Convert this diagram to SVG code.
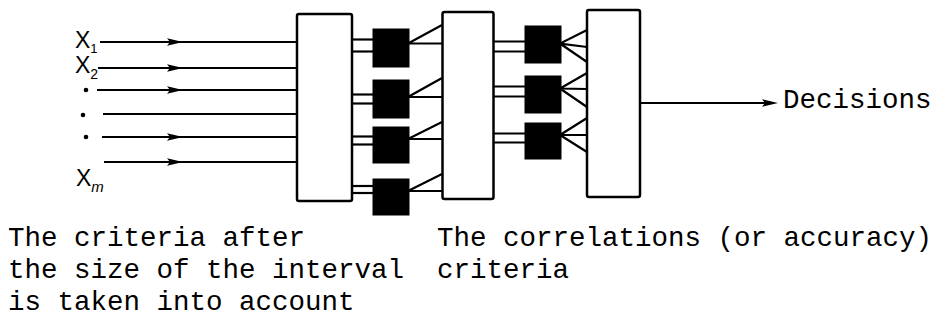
<svg xmlns="http://www.w3.org/2000/svg" xmlns:xlink="http://www.w3.org/1999/xlink" width="944" height="320" viewBox="0 0 944 320">
<style>
.box{fill:#fff;stroke:#000;stroke-width:2.5}
.blk{fill:#000;stroke:#000;stroke-width:1}
.ln{stroke:#000;stroke-width:2.2;fill:none}
.mono{font-family:"Liberation Mono","Courier New",monospace;font-size:27.5px;fill:#000}
.xl{font-family:"Liberation Sans",Arial,sans-serif;fill:#000}
</style>
<defs>
<path id="ah" d="M0,0 L-16,-3.8 L-13,0 L-16,3.8 Z" fill="#000"/>
</defs>
<rect width="944" height="320" fill="#fff"/>
<g id="connectors">
  <line class="ln" x1="100" y1="42" x2="297" y2="42"/>
  <line class="ln" x1="98" y1="68" x2="297" y2="68"/>
  <line class="ln" x1="97" y1="90" x2="297" y2="90"/>
  <line class="ln" x1="103" y1="114" x2="297" y2="114"/>
  <line class="ln" x1="102" y1="137" x2="297" y2="137"/>
  <line class="ln" x1="104" y1="162" x2="297" y2="162"/>
  <use xlink:href="#ah" x="183" y="42"/>
  <use xlink:href="#ah" x="183" y="68"/>
  <use xlink:href="#ah" x="183" y="90"/>
  <use xlink:href="#ah" x="183" y="137"/>
  <use xlink:href="#ah" x="183" y="162"/>
  <line class="ln" x1="352" y1="39.5" x2="373" y2="39.5"/>
  <line class="ln" x1="352" y1="51.5" x2="373" y2="51.5"/>
  <line class="ln" x1="352" y1="94.5" x2="373" y2="94.5"/>
  <line class="ln" x1="352" y1="103.5" x2="373" y2="103.5"/>
  <line class="ln" x1="352" y1="136.5" x2="373" y2="136.5"/>
  <line class="ln" x1="352" y1="144.5" x2="373" y2="144.5"/>
  <line class="ln" x1="352" y1="186" x2="373" y2="186"/>
  <line class="ln" x1="352" y1="193" x2="373" y2="193"/>
  <path class="ln" d="M442,25 L408,43.5 L442,43.5"/>
  <path class="ln" d="M442,78 L408,97 L442,97"/>
  <path class="ln" d="M442,122 L408,139 L442,139"/>
  <path class="ln" d="M442,174 L408,191 L442,191"/>
  <line class="ln" x1="493" y1="41.5" x2="526" y2="41.5"/>
  <line class="ln" x1="493" y1="51.5" x2="526" y2="51.5"/>
  <line class="ln" x1="493" y1="86.5" x2="526" y2="86.5"/>
  <line class="ln" x1="493" y1="96.5" x2="526" y2="96.5"/>
  <line class="ln" x1="493" y1="133.5" x2="526" y2="133.5"/>
  <line class="ln" x1="493" y1="142.5" x2="526" y2="142.5"/>
  <path class="ln" d="M587,30 L560,43.5 L587,47 M560,43.5 L587,62"/>
  <path class="ln" d="M587,73 L560,88.5 L587,89 M560,88.5 L587,107"/>
  <path class="ln" d="M587,118 L560,135 L587,135 M560,135 L587,152"/>
  <line class="ln" x1="640" y1="103" x2="770" y2="103"/>
  <use xlink:href="#ah" x="778" y="103"/>
</g>
<g id="box1"><rect class="box" x="297" y="14" width="55" height="187" rx="2"/></g>
<g id="box2"><rect class="box" x="442.5" y="12" width="51" height="187" rx="2"/></g>
<g id="box3"><rect class="box" x="587" y="10" width="53" height="187" rx="2"/></g>
<g id="sq1"><rect class="blk" x="373" y="29" width="36" height="38"/></g>
<g id="sq2"><rect class="blk" x="373" y="80" width="36" height="38"/></g>
<g id="sq3"><rect class="blk" x="373" y="127" width="36" height="36"/></g>
<g id="sq4"><rect class="blk" x="373" y="179" width="36" height="36"/></g>
<g id="sq5"><rect class="blk" x="525" y="26" width="36" height="37"/></g>
<g id="sq6"><rect class="blk" x="525" y="76" width="36" height="37"/></g>
<g id="sq7"><rect class="blk" x="525" y="123" width="36" height="36"/></g>
<g id="inputs">
  <text class="xl" x="75" y="48" font-size="23">X<tspan font-size="13" dy="5">1</tspan></text>
  <text class="xl" x="75" y="73" font-size="23">X<tspan font-size="14" dy="6">2</tspan></text>
  <circle cx="86" cy="90" r="2.3"/>
  <circle cx="83" cy="115" r="2.3"/>
  <circle cx="86" cy="137" r="2.3"/>
  <text class="xl" x="76" y="186" font-size="23">X<tspan font-size="15" font-style="italic" dy="6">m</tspan></text>
</g>
<g id="output"><text class="mono" x="783" y="108">Decisions</text></g>
<g id="labels">
  <text class="mono" x="8" y="246">The criteria after</text>
  <text class="mono" x="8" y="278">the size of the interval</text>
  <text class="mono" x="8" y="310">is taken into account</text>
  <text class="mono" x="437" y="246">The correlations (or accuracy)</text>
  <text class="mono" x="437" y="278">criteria</text>
</g>
</svg>
